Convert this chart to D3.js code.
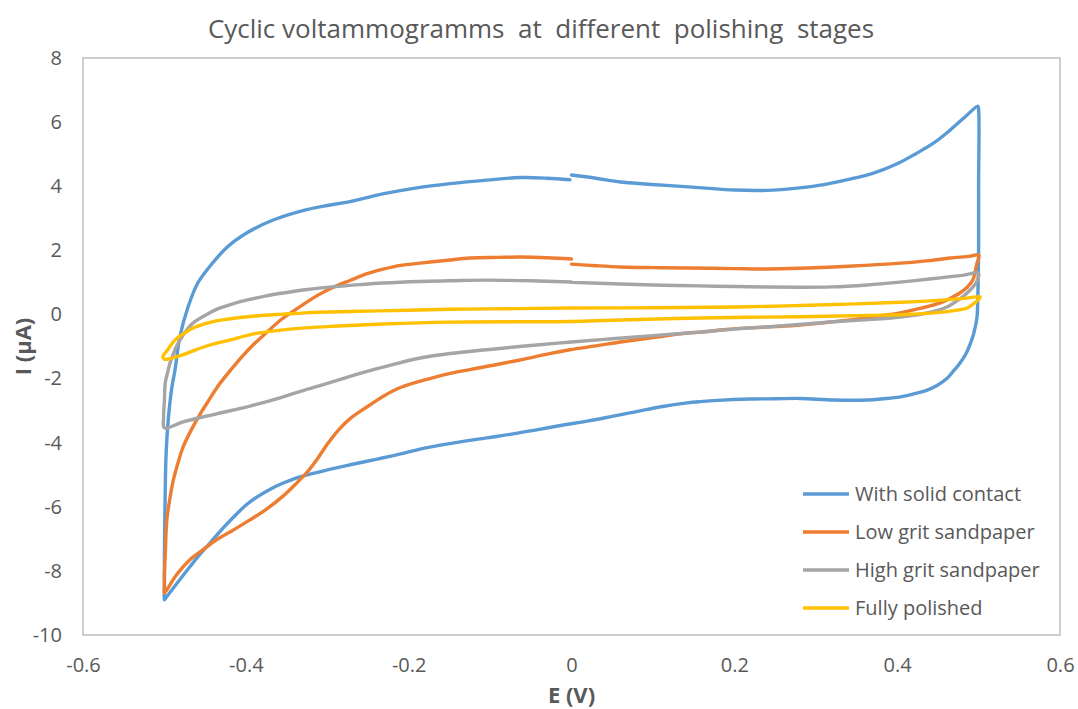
<!DOCTYPE html>
<html>
<head>
<meta charset="utf-8">
<script src="https://cdn.jsdelivr.net/npm/d3@7"></script>
<style>
  body { margin: 0; background: #fff; }
  text { font-family: "Open Sans", sans-serif; fill: #595959; }
</style>
</head>
<body>
<div id="chart"></div>
<script>
// Chart values: [E (V), I (µA)]
var seriesNames = ["With solid contact", "Low grit sandpaper", "High grit sandpaper", "Fully polished"];
var seriesColors = ["#5B9BD5", "#ED7D31", "#A5A5A5", "#FFC000"];
var xTicks = [-0.6, -0.4, -0.2, 0, 0.2, 0.4, 0.6];
var yTicks = [-10, -8, -6, -4, -2, 0, 2, 4, 6, 8];

var solidContact = [
  [0.0,4.35],[0.03,4.25],[0.06,4.13],[0.09,4.07],[0.121,4.02],[0.16,3.95],[0.2,3.88],[0.24,3.87],[0.28,3.95],
  [0.31,4.05],[0.342,4.22],[0.37,4.4],[0.4,4.7],[0.424,5.03],[0.445,5.35],[0.465,5.75],[0.485,6.2],[0.499,6.5],
  [0.5,6.4],[0.5,4],[0.5,2],[0.499,0.5],[0.498,-0.1],[0.494,-0.6],[0.49,-0.9],[0.484,-1.25],[0.477,-1.52],
  [0.468,-1.8],[0.461,-2.0],[0.45,-2.2],[0.437,-2.36],[0.42,-2.48],[0.404,-2.57],[0.383,-2.63],[0.363,-2.67],
  [0.322,-2.67],[0.281,-2.62],[0.25,-2.63],[0.219,-2.64],[0.18,-2.68],[0.158,-2.72],[0.142,-2.76],[0.11,-2.88],
  [0.08,-3.03],[0.05,-3.18],[0.019,-3.33],[-0.01,-3.45],[-0.043,-3.6],[-0.07,-3.72],[-0.104,-3.85],[-0.15,-4.03],
  [-0.186,-4.2],[-0.21,-4.35],[-0.24,-4.52],[-0.272,-4.69],[-0.3,-4.85],[-0.321,-4.98],[-0.34,-5.12],[-0.354,-5.26],
  [-0.37,-5.45],[-0.386,-5.69],[-0.4,-5.95],[-0.415,-6.32],[-0.43,-6.72],[-0.444,-7.13],[-0.457,-7.5],[-0.469,-7.88],
  [-0.485,-8.4],[-0.497,-8.8],[-0.5,-8.9],
  [-0.5,-8.6],[-0.5,-7.5],[-0.499,-5.5],[-0.498,-4.4],[-0.495,-3.2],[-0.491,-2.3],[-0.487,-1.73],[-0.481,-0.7],[-0.471,0.23],
  [-0.459,0.98],[-0.441,1.6],[-0.422,2.12],[-0.397,2.57],[-0.368,2.93],[-0.33,3.24],[-0.3,3.4],[-0.272,3.52],
  [-0.232,3.76],[-0.19,3.95],[-0.149,4.08],[-0.104,4.19],[-0.063,4.27],[-0.03,4.25],[-0.002,4.2]
];

var lowGrit = [
  [0.0,1.57],[0.03,1.52],[0.06,1.48],[0.1,1.46],[0.142,1.45],[0.2,1.43],[0.24,1.42],[0.28,1.44],[0.322,1.48],
  [0.36,1.53],[0.404,1.6],[0.44,1.68],[0.465,1.76],[0.49,1.82],[0.5,1.86],
  [0.5,1.75],[0.498,1.6],[0.493,1.08],[0.486,0.85],[0.477,0.67],[0.465,0.5],[0.453,0.36],[0.43,0.2],[0.404,0.05],
  [0.37,-0.07],[0.342,-0.17],[0.31,-0.26],[0.281,-0.33],[0.25,-0.38],[0.219,-0.42],[0.19,-0.47],[0.158,-0.55],
  [0.142,-0.58],[0.1,-0.72],[0.06,-0.86],[0.03,-0.98],[-0.002,-1.1],[-0.03,-1.24],[-0.063,-1.42],[-0.1,-1.6],
  [-0.125,-1.72],[-0.149,-1.84],[-0.174,-2.0],[-0.21,-2.28],[-0.231,-2.55],[-0.251,-2.88],[-0.272,-3.25],
  [-0.286,-3.6],[-0.3,-4.05],[-0.312,-4.5],[-0.325,-4.93],[-0.34,-5.32],[-0.354,-5.66],[-0.375,-6.08],[-0.395,-6.41],
  [-0.415,-6.72],[-0.436,-7.03],[-0.452,-7.33],[-0.469,-7.66],[-0.486,-8.15],[-0.496,-8.55],[-0.5,-8.69],
  [-0.5,-8.45],[-0.5,-8.1],[-0.499,-7.5],[-0.497,-6.41],[-0.493,-5.7],[-0.489,-5.16],[-0.483,-4.6],[-0.477,-4.13],
  [-0.467,-3.6],[-0.456,-3.1],[-0.446,-2.7],[-0.436,-2.3],[-0.424,-1.9],[-0.411,-1.5],[-0.393,-1.0],
  [-0.374,-0.55],[-0.356,-0.15],[-0.333,0.25],[-0.313,0.58],[-0.293,0.84],[-0.272,1.06],[-0.251,1.27],
  [-0.23,1.42],[-0.21,1.53],[-0.186,1.6],[-0.149,1.7],[-0.125,1.76],[-0.09,1.78],[-0.063,1.79],[-0.03,1.77],[0.0,1.73]
];

var highGrit = [
  [0.0,1.0],[0.06,0.95],[0.1,0.92],[0.158,0.89],[0.2,0.87],[0.281,0.85],[0.32,0.86],[0.363,0.92],[0.4,1.0],
  [0.445,1.12],[0.48,1.22],[0.5,1.29],
  [0.499,1.1],[0.496,0.95],[0.486,0.67],[0.475,0.45],[0.461,0.23],[0.44,0.06],[0.404,-0.08],[0.36,-0.17],
  [0.322,-0.23],[0.28,-0.31],[0.24,-0.39],[0.203,-0.45],[0.158,-0.55],[0.1,-0.66],[0.05,-0.76],[0.0,-0.86],
  [-0.05,-0.97],[-0.104,-1.1],[-0.149,-1.22],[-0.186,-1.36],[-0.21,-1.5],[-0.24,-1.7],[-0.272,-1.93],
  [-0.3,-2.15],[-0.333,-2.4],[-0.36,-2.62],[-0.395,-2.86],[-0.436,-3.1],[-0.477,-3.35],[-0.5,-3.54],
  [-0.501,-3.2],[-0.5,-2.67],[-0.499,-2.14],[-0.496,-1.8],[-0.493,-1.51],[-0.487,-1.1],[-0.481,-0.8],
  [-0.473,-0.5],[-0.465,-0.27],[-0.45,-0.03],[-0.436,0.16],[-0.415,0.34],[-0.395,0.47],[-0.375,0.58],
  [-0.354,0.67],[-0.327,0.77],[-0.293,0.86],[-0.26,0.93],[-0.232,0.98],[-0.186,1.03],[-0.149,1.05],
  [-0.104,1.07],[-0.05,1.05],[0.0,1.01]
];

var fullyPolished = [
  [0.0,0.2],[0.1,0.21],[0.203,0.23],[0.281,0.28],[0.35,0.33],[0.404,0.38],[0.45,0.44],[0.486,0.51],[0.502,0.55],
  [0.498,0.42],[0.493,0.32],[0.486,0.2],[0.47,0.12],[0.445,0.05],[0.41,0.0],[0.383,-0.02],[0.281,-0.07],
  [0.158,-0.11],[0.05,-0.18],[0.0,-0.22],[-0.149,-0.24],[-0.232,-0.3],[-0.293,-0.37],[-0.327,-0.42],
  [-0.354,-0.48],[-0.389,-0.6],[-0.42,-0.8],[-0.45,-1.0],[-0.477,-1.25],[-0.5,-1.4],
  [-0.502,-1.33],[-0.496,-1.1],[-0.487,-0.8],[-0.475,-0.57],[-0.462,-0.39],[-0.446,-0.26],[-0.429,-0.17],
  [-0.389,-0.05],[-0.354,0.01],[-0.327,0.05],[-0.272,0.09],[-0.2,0.13],[-0.149,0.16],[-0.07,0.18],[0.0,0.2]
];

var allSeries = [solidContact, lowGrit, highGrit, fullyPolished];

var svgWidth = 1078;
var svgHeight = 709;
var margin = { top: 58, right: 18, bottom: 74, left: 83 };
var width = svgWidth - margin.left - margin.right;
var height = svgHeight - margin.top - margin.bottom;

var svg = d3.select("#chart")
  .append("svg")
  .attr("width", svgWidth)
  .attr("height", svgHeight);

var chartGroup = svg.append("g")
  .attr("transform", `translate(${margin.left}, ${margin.top})`);

var xScale = d3.scaleLinear().domain([-0.6, 0.6]).range([0, width]);
var yScale = d3.scaleLinear().domain([-10, 8]).range([height, 0]);

// plot border
chartGroup.append("rect")
  .attr("x", 0).attr("y", 0)
  .attr("width", width).attr("height", height)
  .attr("fill", "none")
  .attr("stroke", "#BFBFBF")
  .attr("stroke-width", 1.5);

// axes (labels only, no tick marks); plain hyphen for negatives like Excel
var xAxis = chartGroup.append("g")
  .attr("transform", `translate(0, ${height})`)
  .call(d3.axisBottom(xScale).tickValues(xTicks).tickSize(0).tickPadding(23).tickFormat(d => String(d)));
var yAxis = chartGroup.append("g")
  .call(d3.axisLeft(yScale).tickValues(yTicks).tickSize(0).tickPadding(21).tickFormat(d => String(d)));

[xAxis, yAxis].forEach(function(ax) {
  ax.select(".domain").remove();
  ax.selectAll("text")
    .style("font-family", "'Open Sans', sans-serif")
    .style("font-size", "20px")
    .attr("fill", "#595959");
});

// curves (centripetal Catmull-Rom keeps the sharp turning points without overshoot)
var line = d3.line()
  .curve(d3.curveCatmullRom.alpha(0.5))
  .x(d => xScale(d[0]))
  .y(d => yScale(d[1]));

chartGroup.selectAll(".cv")
  .data(allSeries)
  .enter()
  .append("path")
  .attr("class", "cv")
  .attr("d", line)
  .attr("fill", "none")
  .attr("stroke", (d, i) => seriesColors[i])
  .attr("stroke-width", 3.4)
  .attr("stroke-linejoin", "round")
  .attr("stroke-linecap", "round");

// title
svg.append("text")
  .attr("x", 541)
  .attr("y", 38)
  .attr("text-anchor", "middle")
  .style("font-size", "26px")
  .style("white-space", "pre")
  .attr("xml:space", "preserve")
  .text("Cyclic voltammogramms  at  different  polishing  stages");

// axis titles
svg.append("text")
  .attr("x", margin.left + xScale(0))
  .attr("y", 703)
  .attr("text-anchor", "middle")
  .style("font-size", "22px")
  .style("font-weight", "bold")
  .text("E (V)");

svg.append("text")
  .attr("transform", `translate(31, ${margin.top + height / 2}) rotate(-90)`)
  .attr("text-anchor", "middle")
  .style("font-size", "22px")
  .style("font-weight", "bold")
  .text("I (µA)");

// legend
var legend = svg.append("g").attr("transform", "translate(803, 494)");
seriesNames.forEach(function(name, i) {
  var row = legend.append("g").attr("transform", `translate(0, ${i * 38})`);
  row.append("line")
    .attr("x1", 0).attr("x2", 46)
    .attr("y1", 0).attr("y2", 0)
    .attr("stroke", seriesColors[i])
    .attr("stroke-width", 3.4);
  row.append("text")
    .attr("x", 52)
    .attr("y", 7)
    .style("font-size", "20px")
    .text(name);
});
</script>
</body>
</html>
